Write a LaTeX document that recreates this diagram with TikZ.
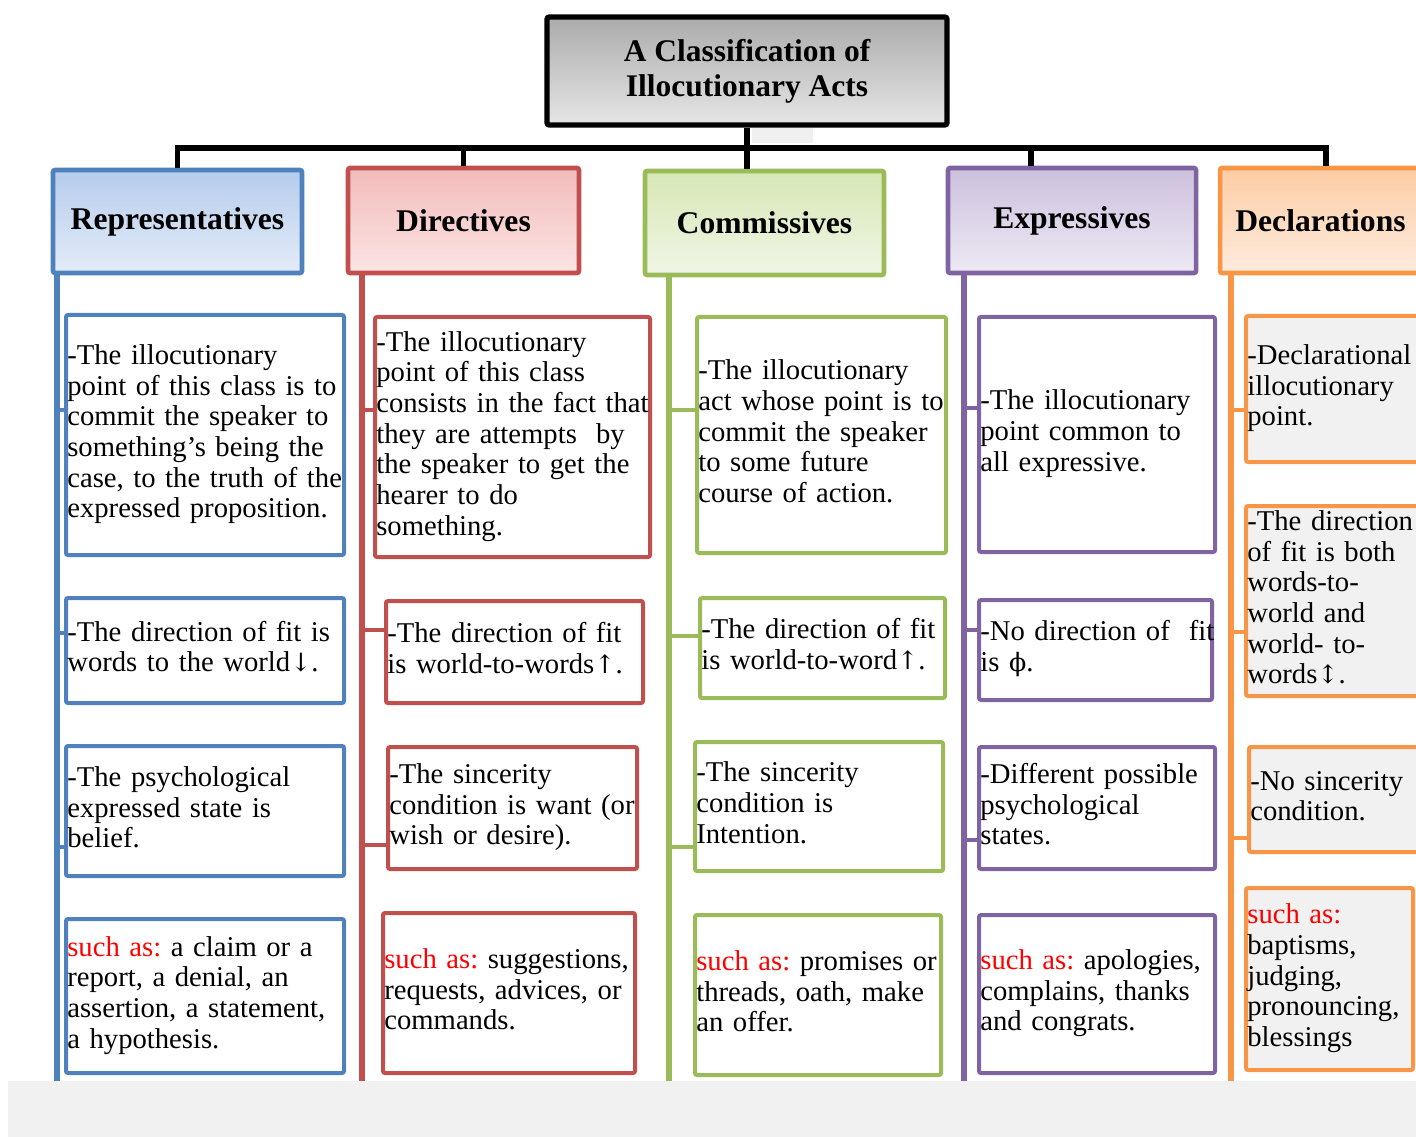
\documentclass[tikz,border=0pt]{standalone}
\usepackage{fontspec}
\setmainfont{Liberation Serif}
\newfontfamily\phifont{DejaVu Serif}
\definecolor{cB}{HTML}{4F81BD}
\definecolor{cBtop}{HTML}{B5CCEC}
\definecolor{cBbot}{HTML}{E4ECF8}
\definecolor{cR}{HTML}{C0504D}
\definecolor{cRtop}{HTML}{F2BBBA}
\definecolor{cRbot}{HTML}{FBE5E4}
\definecolor{cG}{HTML}{9BBB59}
\definecolor{cGtop}{HTML}{D6E7B4}
\definecolor{cGbot}{HTML}{F0F6E6}
\definecolor{cP}{HTML}{8064A2}
\definecolor{cPtop}{HTML}{CCC1DE}
\definecolor{cPbot}{HTML}{EDE9F4}
\definecolor{cO}{HTML}{F79646}
\definecolor{cOtop}{HTML}{FCCDA5}
\definecolor{cObot}{HTML}{FEEBDD}
\definecolor{lgray}{HTML}{F1F1F1}
\definecolor{ttop}{HTML}{ABABAB}
\definecolor{tbot}{HTML}{E6E6E6}
\frenchspacing
\newcommand\bodyfont{\fontsize{21.5pt}{23pt}\selectfont\frenchspacing}
\newcommand\hdrfont{\fontsize{23.7pt}{26.25pt}\selectfont\bfseries}
\newcommand\sa{\textcolor{red}{such as:}}
\newcommand\dn{{\phifont\fontsize{19pt}{23pt}\selectfont ↓}}
\newcommand\up{{\phifont\fontsize{19pt}{23pt}\selectfont ↑}}
\newcommand\ud{{\phifont\fontsize{19pt}{23pt}\selectfont ↕}}
\newcommand\cbox[7]{%
  \pgfmathsetmacro\cbw{(#4-#2)*0.75-2}%
  \pgfmathsetmacro\cbh{(#5-#3)*0.75}%
  \node[contentbox,#6,minimum height=\cbh pt,text width=\cbw pt] (#1) at ({(#2+#4)/2},{(#3+#5)/2})
    {\begin{tabular}{@{}l@{}}#7\end{tabular}};}
\newcommand\hdr[7]{%
  \pgfmathsetmacro\cbw{(#4-#2)*0.75}%
  \pgfmathsetmacro\cbh{(#5-#3)*0.75}%
  \node[hdrbox,draw=#6,top color=#6top,bottom color=#6bot,minimum width=\cbw pt,minimum height=\cbh pt] (#1) at ({(#2+#4)/2},{(#3+#5)/2}) {#7};}
\begin{document}
\begin{tikzpicture}[x=0.75pt,y=-0.75pt,
  contentbox/.style={draw,line width=3pt,rounded corners=1.5pt,inner xsep=1pt,inner ysep=0pt,fill=white,font=\bodyfont,align=left},
  hdrbox/.style={line width=3.4pt,rounded corners=1.5pt,inner sep=0pt,font=\hdrfont},
  spine/.style={line width=3.8pt},
  tick/.style={line width=2.6pt},
  conn/.style={line width=3.8pt,black}]
\useasboundingbox (0,0) rectangle (1416,1137);
\clip (0,0) rectangle (1416,1137);

\coordinate (sB) at (57,1081);
\coordinate (sR) at (362,1081);
\coordinate (sG) at (669,1081);
\coordinate (sP) at (964,1081);
\coordinate (sO) at (1231,1081);
\coordinate (bus) at (747,148);
\coordinate (eDrop) at (1031,148);
\coordinate (oDrop) at (1326,148);

% title
\pgfmathsetmacro\tw{(947-547)*0.75}
\pgfmathsetmacro\th{(125-17)*0.75}
\node[draw=black,line width=3.8pt,rounded corners=1.5pt,top color=ttop,bottom color=tbot,
  minimum width=\tw pt,minimum height=\th pt,align=center,inner sep=0pt,
  font=\fontsize{23.6pt}{26.25pt}\selectfont\bfseries] (title) at (747,71)
  {A Classification of\\Illocutionary Acts};
\fill[black!6] (752,128) rectangle (813,143);

% headers
\hdr{hR}{53}{170}{302}{273}{cB}{Representatives}
\hdr{hD}{348}{168}{579}{273}{cR}{Directives}
\hdr{hC}{645}{171}{884}{275}{cG}{Commissives}
\hdr{hE}{948}{168}{1196}{273}{cP}{Expressives}
\hdr{hO}{1220}{168}{1421}{273}{cO}{Declarations}

% black connectors
\draw[conn] (title.south) -- (hC.north -| title.south);
\draw[conn] (hR.north) -- (hR.north |- bus) -- (oDrop) -- (oDrop |- hO.north);
\draw[conn] (hD.north |- bus) -- (hD.north);
\draw[conn] (eDrop) -- (eDrop |- hE.north);

% spines
\draw[spine,cB] (sB |- hR.south) -- (sB);
\draw[spine,cR] (sR |- hD.south) -- (sR);
\draw[spine,cG] (sG |- hC.south) -- (sG);
\draw[spine,cP] (sP |- hE.south) -- (sP);
\draw[spine,cO] (sO |- hO.south) -- (sO);

% Representatives
\cbox{b1}{66}{315}{344}{555}{draw=cB}{-The illocutionary\\point of this class is to\\commit the speaker to\\something's being the\\case, to the truth of the\\expressed proposition.}
\cbox{b2}{66}{598}{344}{703}{draw=cB}{-The direction of fit is\\words to the world\dn.}
\cbox{b3}{66}{746}{344}{876}{draw=cB}{-The psychological\\expressed state is\\belief.}
\cbox{b4}{66}{919}{344}{1073}{draw=cB}{\sa{} a claim or a\\report, a denial, an\\assertion, a statement,\\a hypothesis.}

% Directives
\cbox{r1}{375}{317}{650}{557}{draw=cR}{-The illocutionary\\point of this class\\consists in the fact that\\they are attempts\ \ by\\the speaker to get the\\hearer to do\\something.}
\cbox{r2}{386}{601}{643}{703}{draw=cR}{-The direction of fit\\is world-to-words\up.}
\cbox{r3}{388}{747}{637}{869}{draw=cR}{-The sincerity\\condition is want (or\\wish or desire).}
\cbox{r4}{383}{913}{635}{1073}{draw=cR}{\sa{} suggestions,\\requests, advices, or\\commands.}

% Commissives
\cbox{g1}{697}{317}{946}{553}{draw=cG}{-The illocutionary\\act whose point is to\\commit the speaker\\to some future\\course of action.}
\cbox{g2}{700}{598}{945}{698}{draw=cG}{-The direction of fit\\is world-to-word\up.}
\cbox{g3}{695}{742}{943}{871}{draw=cG}{-The sincerity\\condition is\\Intention.}
\cbox{g4}{695}{915}{941}{1075}{draw=cG}{\sa{} promises or\\threads, oath, make\\an offer.}

% Expressives
\cbox{p1}{979}{317}{1215}{552}{draw=cP}{-The illocutionary\\point common to\\all expressive.}
\cbox{p2}{979}{600}{1212}{700}{draw=cP}{-No direction of\ \ fit\\is {\phifont\fontsize{19pt}{23pt}\selectfont ϕ}.}
\cbox{p3}{979}{747}{1215}{869}{draw=cP}{-Different possible\\psychological\\states.}
\cbox{p4}{979}{915}{1215}{1073}{draw=cP}{\sa{} apologies,\\complains, thanks\\and congrats.}

% Declarations
\cbox{o1}{1246}{316}{1424}{462}{draw=cO,fill=lgray}{-Declarational\\illocutionary\\point.}
\cbox{o2}{1246}{506}{1424}{696}{draw=cO,fill=lgray}{-The direction\\of fit is both\\words-to-\\world and\\world- to-\\words\ud.}
\cbox{o3}{1249}{747}{1424}{852}{draw=cO,fill=lgray}{-No sincerity\\condition.}
\cbox{o4}{1246}{888}{1413}{1070}{draw=cO,fill=lgray}{\sa\\baptisms,\\judging,\\pronouncing,\\blessings}

% ticks
\draw[tick,cB] (sB |- 0,410) -- (b1.west |- 0,410);
\draw[tick,cB] (sB |- 0,633) -- (b2.west |- 0,633);
\draw[tick,cB] (sB |- 0,847) -- (b3.west |- 0,847);
\draw[tick,cR] (sR |- 0,410) -- (r1.west |- 0,410);
\draw[tick,cR] (sR |- 0,630) -- (r2.west |- 0,630);
\draw[tick,cR] (sR |- 0,845) -- (r3.west |- 0,845);
\draw[tick,cG] (sG |- 0,410) -- (g1.west |- 0,410);
\draw[tick,cG] (sG |- 0,636) -- (g2.west |- 0,636);
\draw[tick,cG] (sG |- 0,847) -- (g3.west |- 0,847);
\draw[tick,cP] (sP |- 0,408) -- (p1.west |- 0,408);
\draw[tick,cP] (sP |- 0,630) -- (p2.west |- 0,630);
\draw[tick,cP] (sP |- 0,840) -- (p3.west |- 0,840);
\draw[tick,cO] (sO |- 0,410) -- (o1.west |- 0,410);
\draw[tick,cO] (sO |- 0,632) -- (o2.west |- 0,632);
\draw[tick,cO] (sO |- 0,838) -- (o3.west |- 0,838);

% bottom band
\fill[lgray] (8,1081) rectangle (1416,1137);
\end{tikzpicture}
\end{document}
